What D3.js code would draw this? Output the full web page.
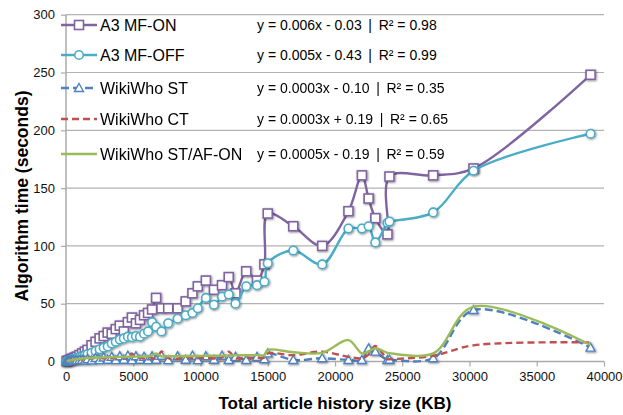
<!DOCTYPE html>
<html>
<head>
<meta charset="utf-8">
<script src="https://cdn.jsdelivr.net/npm/d3@7/dist/d3.min.js"></script>
<style>
  body { margin: 0; background: #fff; }
  svg text { font-family: "Liberation Sans", Arial, sans-serif; }
</style>
</head>
<body>
<div id="chart"></div>
<script>
// article history size (KB), shared by all series
var xValues = [50, 120, 200, 300, 400, 500, 650, 800, 1000, 1200, 1400, 1600, 1900, 2200, 2500, 2800,
  3100, 3400, 3700, 4000, 4300, 4600, 4900, 5200, 5500, 5800, 6100, 6400, 6700, 7100, 7600, 8300,
  8900, 9400, 9800, 10400, 11000, 11600, 12100, 12600, 13400, 14200, 14750, 15000, 16900, 19050,
  21000, 22000, 22500, 23000, 23900, 24050, 27300, 30300, 39000];

var mfOn = [0.3, 0.6, 1, 1.5, 2, 2.6, 3.4, 4.2, 5.5, 7, 8.5, 10, 14, 17, 20, 22,
  25, 24, 28, 31, 26, 34, 38, 33, 36, 40, 42, 45, 55, 46, 46, 46,
  52, 59, 65, 70, 62, 66, 73, 59, 78, 70, 84, 128, 117, 100,
  130, 161, 141, 124, 110, 160, 161, 167, 248];

var mfOff = [0.2, 0.5, 0.8, 1.2, 1.6, 2, 2.6, 3, 3.8, 4.5, 5.5, 6.2, 7.5, 9, 10.5, 12,
  13, 15.5, 17, 19, 20, 21.5, 21, 22, 21.5, 24, 26, 34, 30, 26, 33, 37,
  40, 42, 46, 55, 49, 56, 58, 50, 65, 66, 69, 85, 96, 84,
  115, 115, 117, 103, 120, 121, 129, 165, 197];

var wwST = [0.2, 0.3, 0.4, 0.5, 0.6, 0.7, 0.8, 1, 1.2, 1.4, 0.8, 2, 1, 3, 1.2, 3.5,
  1.5, 4, 1.2, 4.5, 1.5, 5, 1.2, 4.5, 1.5, 4, 1.2, 4.5, 1.5, 5, 1.2, 4.5,
  1.5, 5, 1.2, 4.5, 1.5, 5, 1.3, 4, 1.3, 4, 2, 7, 1.3, 2.8,
  1.3, 1.3, 11.4, 8.5, 1.3, 1.5, 2.8, 44.5, 12];

var wwCT = [0.3, 0.4, 0.5, 0.6, 0.8, 1, 1.2, 1.4, 1.8, 2, 2.2, 2.4, 2.8, 3, 3.2, 2.5,
  3.4, 2.8, 3.5, 3, 4, 3.2, 7, 2.8, 3.5, 2.5, 3.8, 3, 2.5, 8.5, 3, 2.5,
  4, 3, 2.8, 3.5, 2.6, 3.5, 8.5, 2.8, 3.5, 3, 3.2, 7, 5.5, 8.5,
  4, 2.8, 6, 13.4, 2, 2, 5, 14, 16.5];

var wwAF = [0.3, 0.5, 0.7, 0.9, 1.1, 1.3, 1.6, 1.9, 2.2, 2.5, 2.8, 3, 3.2, 3.4, 3.5, 3.6,
  3.8, 3.8, 3.9, 4, 4, 4.1, 4.2, 4.2, 4.3, 4.3, 4.5, 5, 7, 4.5, 4.5, 4.6,
  4.7, 4.8, 4.8, 5, 5, 5.1, 5.2, 5.3, 5.4, 5.5, 5.6, 10, 8, 7.5,
  18.5, 7, 9, 11.4, 7.5, 7.2, 7, 47.4, 14.3];

var seriesNames = ["A3 MF-ON", "A3 MF-OFF", "WikiWho ST", "WikiWho CT", "WikiWho ST/AF-ON"];
var equations = [
  "y = 0.006x - 0.03 \u2009|\u2009 R\u00B2 = 0.98",
  "y = 0.005x - 0.43 \u2009|\u2009 R\u00B2 = 0.99",
  "y = 0.0003x - 0.10 \u2009|\u2009 R\u00B2 = 0.35",
  "y = 0.0003x + 0.19 \u2009|\u2009 R\u00B2 = 0.65",
  "y = 0.0005x - 0.19 \u2009|\u2009 R\u00B2 = 0.59"
];
var xTicks = [0, 5000, 10000, 15000, 20000, 25000, 30000, 35000, 40000];
var yTicks = [0, 50, 100, 150, 200, 250, 300];

var colors = ["#8064A2", "#4BACC6", "#4F81BD", "#C0504D", "#9BBB59"];
var markers = ["square", "circle", "triangle", null, null];
var dashes = [null, null, "8,4", "7,4", null];

var allValues = [mfOn, mfOff, wwST, wwCT, wwAF];
var series = seriesNames.map(function(name, i) {
  return {
    name: name,
    color: colors[i],
    marker: markers[i],
    dash: dashes[i],
    eq: equations[i],
    points: xValues.map(function(x, j) { return {x: x, y: allValues[i][j]}; })
  };
});

var width = 623, height = 415;
var margin = {top: 14.7, right: 19, bottom: 53.5, left: 66};

var x = d3.scaleLinear().domain([0, 40000]).range([margin.left, width - margin.right]);
var y = d3.scaleLinear().domain([0, 300]).range([height - margin.bottom, margin.top]);

var svg = d3.select("#chart").append("svg")
    .attr("width", width)
    .attr("height", height);

var defs = svg.append("defs");
var shadow = defs.append("filter").attr("id", "shadow")
    .attr("x", "-50%").attr("y", "-50%").attr("width", "200%").attr("height", "200%");
shadow.append("feDropShadow")
    .attr("dx", 0.8).attr("dy", 0.8).attr("stdDeviation", 1)
    .attr("flood-color", "#000").attr("flood-opacity", 0.5);

// gridlines
svg.append("g")
    .attr("class", "grid")
  .selectAll("line")
  .data(yTicks.filter(function(d) { return d > 0; }))
  .enter().append("line")
    .attr("x1", margin.left)
    .attr("x2", width - margin.right)
    .attr("y1", function(d) { return y(d); })
    .attr("y2", function(d) { return y(d); })
    .attr("stroke", "#b3b3b3")
    .attr("stroke-width", 1.2);

// axes
var xAxis = d3.axisBottom(x).tickValues(xTicks).tickSize(5).tickPadding(5)
    .tickFormat(d3.format("d"));
var yAxis = d3.axisLeft(y).tickValues(yTicks).tickSize(5).tickPadding(6);

var gx = svg.append("g")
    .attr("transform", "translate(0," + y(0) + ")")
    .call(xAxis);
var gy = svg.append("g")
    .attr("transform", "translate(" + x(0) + ",0)")
    .call(yAxis);

[gx, gy].forEach(function(g) {
  g.select(".domain").attr("stroke", "#aaaaaa").attr("stroke-width", 1.5);
  g.selectAll(".tick line").attr("stroke", "#aaaaaa").attr("stroke-width", 1.2);
  g.selectAll(".tick text")
    .attr("fill", "#111")
    .style("font-size", "13px")
    .style("font-family", "'Liberation Sans', Arial, sans-serif");
});
gx.select(".domain").attr("d", "M" + x(0) + ",0H" + x(40000));
gy.select(".domain").attr("d", "M0," + y(300) + "V" + y(0));

// axis titles
svg.append("text")
    .attr("x", (x(0) + x(40000)) / 2)
    .attr("y", 409)
    .attr("text-anchor", "middle")
    .style("font-size", "17px")
    .style("font-weight", "bold")
    .attr("fill", "#000")
    .text("Total article history size (KB)");

svg.append("text")
    .attr("transform", "translate(28,196) rotate(-90)")
    .attr("text-anchor", "middle")
    .style("font-size", "17.5px")
    .style("font-weight", "bold")
    .attr("fill", "#000")
    .text("Algorithm time (seconds)");

var line = d3.line()
    .x(function(d) { return x(d.x); })
    .y(function(d) { return y(d.y); })
    .curve(d3.curveCatmullRom.alpha(0.5));

function drawMarker(sel, type, color) {
  if (type === "square") {
    sel.append("rect")
      .attr("x", -4.5).attr("y", -4.5).attr("width", 9).attr("height", 9)
      .attr("fill", "#fff").attr("stroke", color).attr("stroke-width", 1.6);
  } else if (type === "circle") {
    sel.append("circle")
      .attr("r", 4.3)
      .attr("fill", "#fff").attr("stroke", color).attr("stroke-width", 1.6);
  } else if (type === "triangle") {
    sel.append("path")
      .attr("d", "M0,-4.5L4.5,3.5L-4.5,3.5Z")
      .attr("fill", "#fff").attr("stroke", color).attr("stroke-width", 1.4);
  }
}

var plot = svg.append("g");

series.forEach(function(s) {
  var g = plot.append("g");
  g.append("path")
    .datum(s.points)
    .attr("fill", "none")
    .attr("stroke", s.color)
    .attr("stroke-width", 2.4)
    .attr("stroke-dasharray", s.dash)
    .attr("d", line);

  if (s.marker) {
    g.append("g")
      .attr("filter", "url(#shadow)")
      .selectAll("g")
      .data(s.points)
      .enter().append("g")
        .attr("transform", function(d) { return "translate(" + x(d.x) + "," + y(d.y) + ")"; })
        .each(function() { drawMarker(d3.select(this), s.marker, s.color); });
  }
});

// legend + trendline equations
var legendY = [25, 55, 88, 119, 154];
var legend = svg.append("g");
series.forEach(function(s, i) {
  var row = legend.append("g").attr("transform", "translate(0," + legendY[i] + ")");
  row.append("line")
    .attr("x1", 61).attr("x2", 97)
    .attr("stroke", s.color)
    .attr("stroke-width", 2.4)
    .attr("stroke-dasharray", s.dash);
  if (s.marker) {
    drawMarker(row.append("g").attr("transform", "translate(79,0)"), s.marker, s.color);
  }
  row.append("text")
    .attr("x", 100).attr("y", 5.5)
    .style("font-size", "16px")
    .attr("fill", "#000")
    .text(s.name);
  row.append("text")
    .attr("x", 257).attr("y", 5)
    .style("font-size", "14px")
    .style("white-space", "pre")
    .attr("fill", "#000")
    .text(s.eq);
});
</script>
</body>
</html>
